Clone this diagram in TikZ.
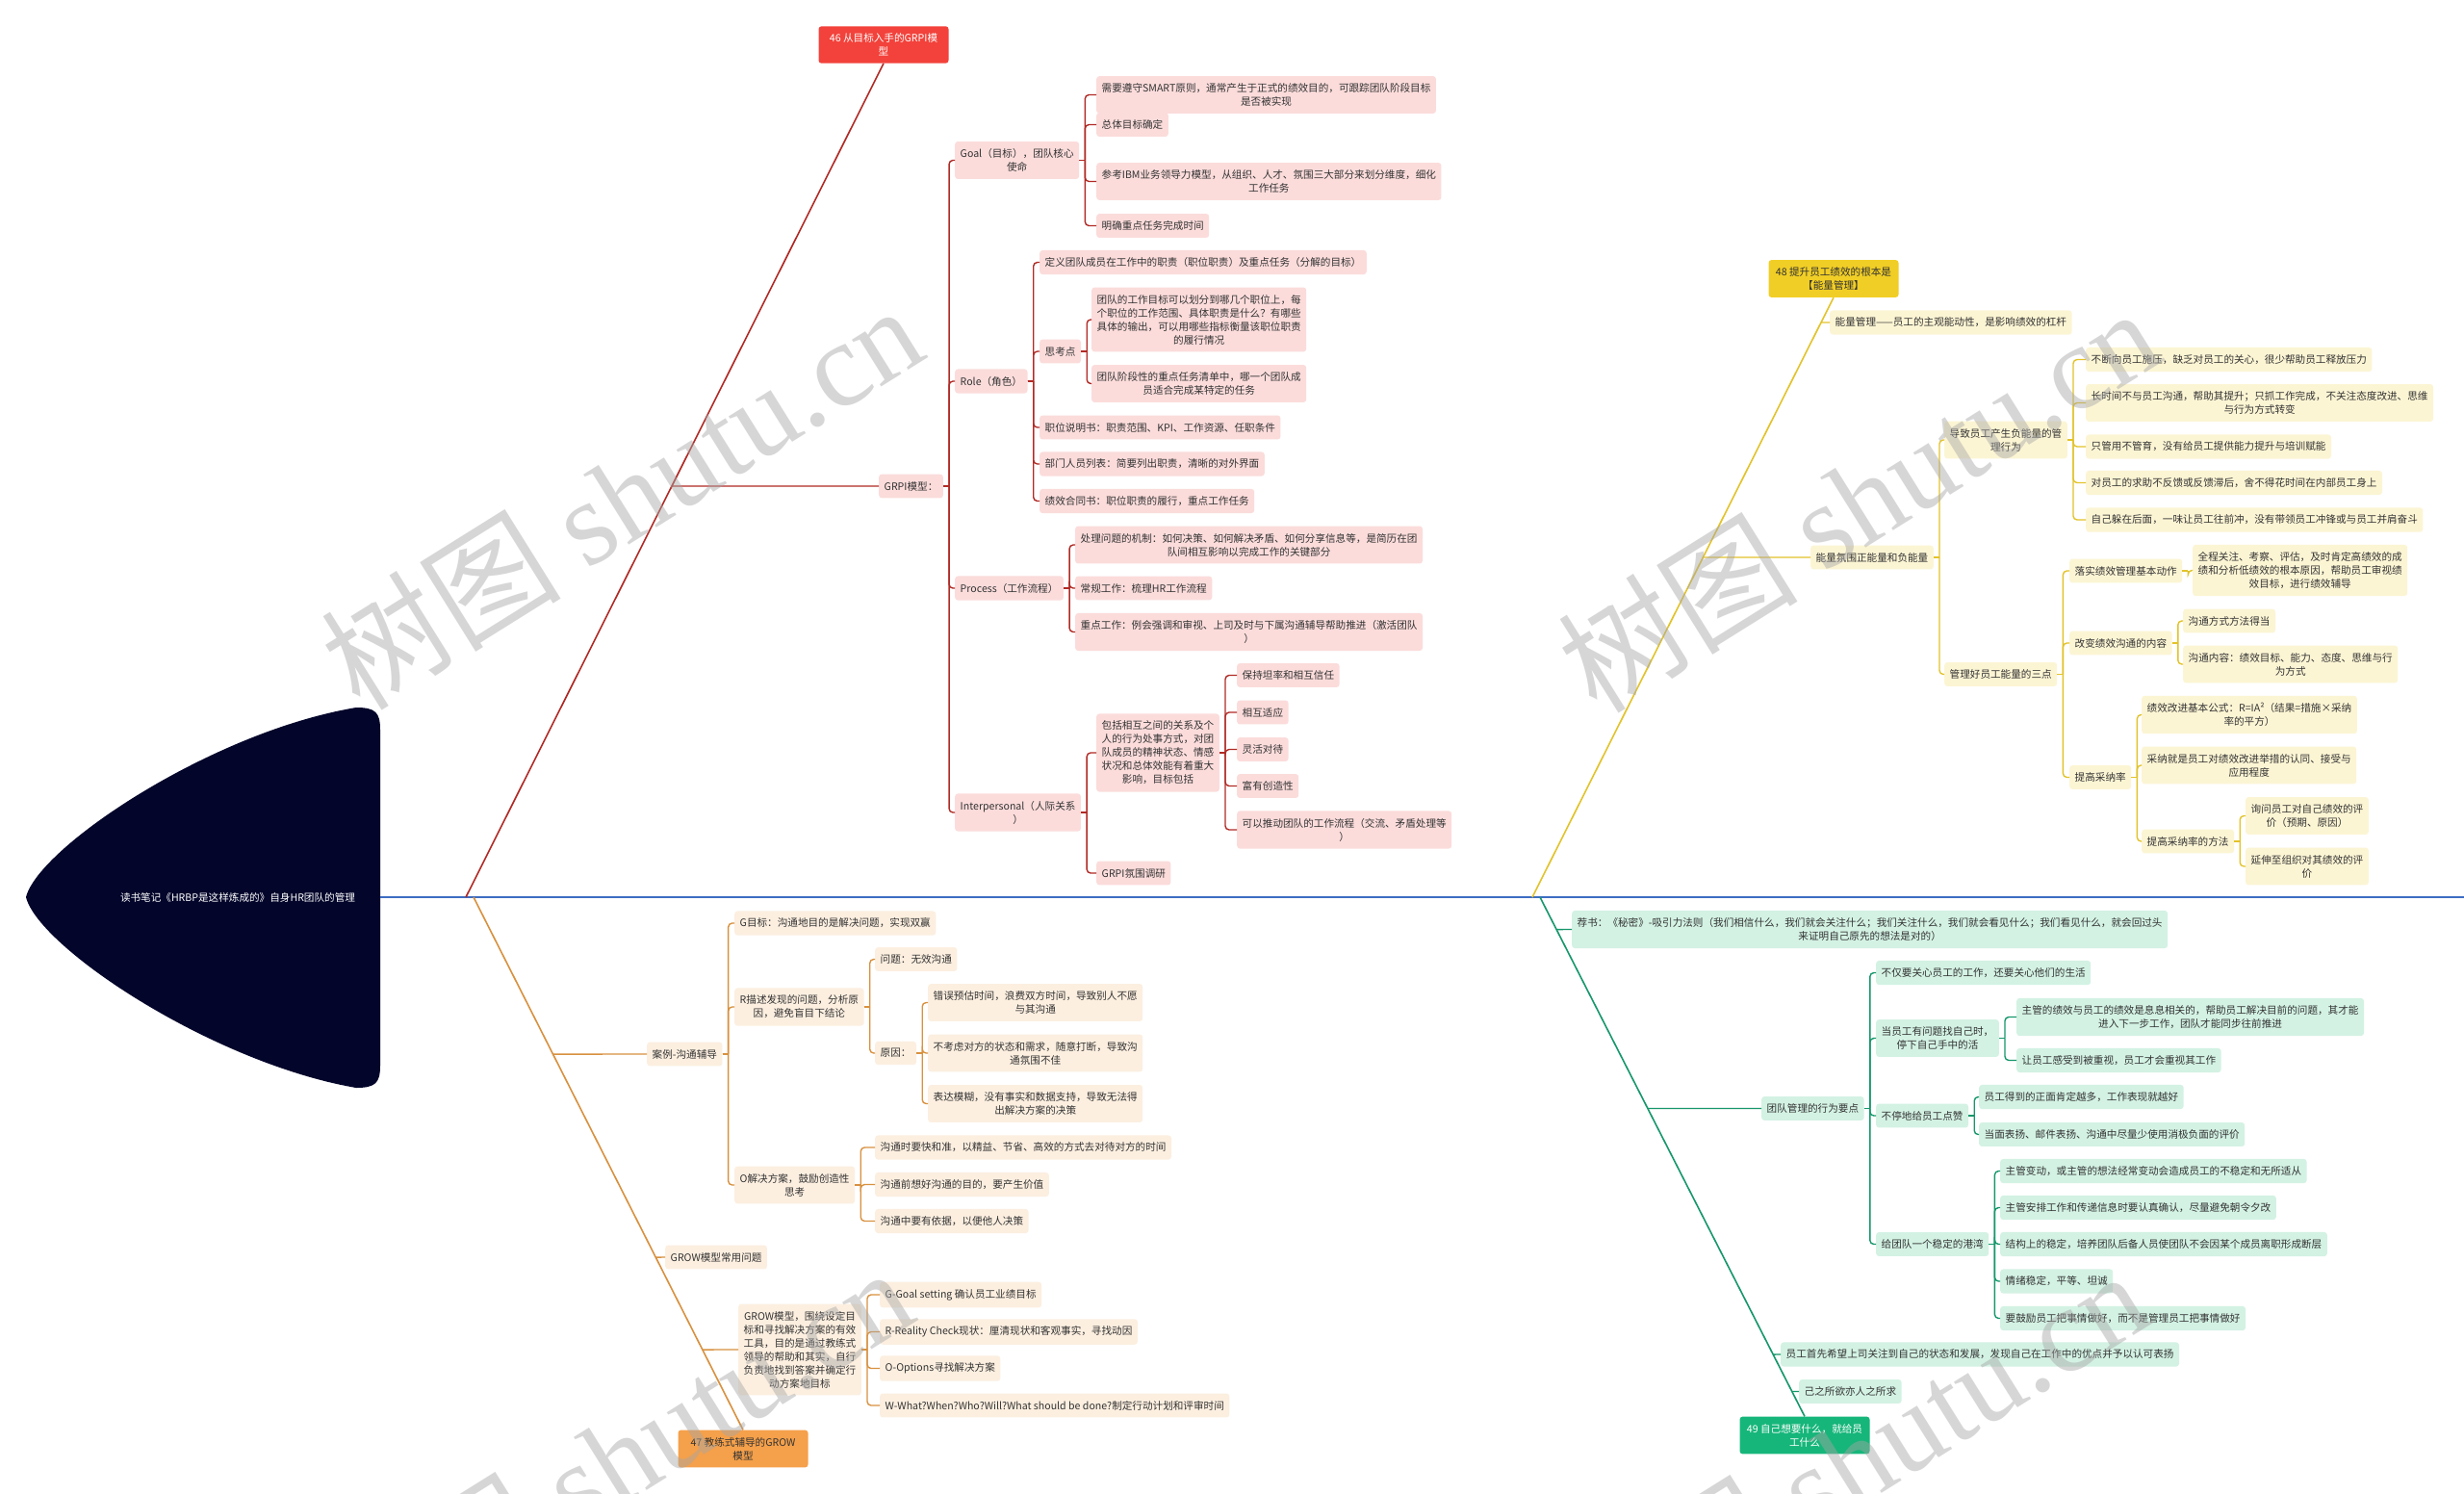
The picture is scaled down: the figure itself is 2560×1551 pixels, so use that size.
\documentclass[tikz,border=0pt]{standalone}
\usepackage{fontspec}
\setmainfont{Noto Sans CJK SC}
\newfontfamily\wmserif{Liberation Serif}

\definecolor{rootnavy}{HTML}{03052B}
\definecolor{axisblue}{HTML}{3D6DC3}
\definecolor{redline}{HTML}{B02A25}
\definecolor{redfill}{HTML}{FBDCDB}
\definecolor{redtop}{HTML}{F2423B}
\definecolor{orline}{HTML}{D8913F}
\definecolor{orfill}{HTML}{FCEFE0}
\definecolor{ortop}{HTML}{F5A04A}
\definecolor{yeline}{HTML}{E2C32A}
\definecolor{yefill}{HTML}{FCF5D4}
\definecolor{yetop}{HTML}{F1CE25}
\definecolor{grline}{HTML}{16976B}
\definecolor{grfill}{HTML}{D3F2E4}
\definecolor{grtop}{HTML}{16B67A}
\definecolor{ink}{HTML}{333333}

\newcommand{\mmsize}{\fontsize{10.6}{14}\selectfont}
% parent -> child: short stub, then bracket with a rounded end
\newcommand{\kid}[3]{\draw[#1] (#2.east) -- ++(6,0);
  \draw[#1,rounded corners=4] ([xshift=6pt]#2.east) |- (#3.west);}

\tikzset{
  mm/.style={rounded corners=3, inner xsep=5.5, inner ysep=7.5, align=center,
    font=\mmsize, text=ink, anchor=west},
  rbox/.style={mm, fill=redfill},
  obox/.style={mm, fill=orfill},
  ybox/.style={mm, fill=yefill},
  gbox/.style={mm, fill=grfill},
  topic/.style={mm, anchor=center, minimum width=135},
  rline/.style={draw=redline, line width=1.4},
  oline/.style={draw=orline, line width=1.4},
  yline/.style={draw=yeline, line width=1.4},
  gline/.style={draw=grline, line width=1.4},
  wm/.style={text=black!35, opacity=0.45, rotate=32,
    font=\fontsize{125}{125}\selectfont}
}

\begin{document}
\begin{tikzpicture}[x=1pt,y=-1pt]
\useasboundingbox (0,0) rectangle (2560,1551);
\fill[white] (0,0) rectangle (2560,1551);

% root
\fill[rootnavy] (27,932) .. controls (40,880) and (220,760) .. (370,735)
  .. controls (390,735) and (395,740) .. (395,758) -- (395,1107)
  .. controls (395,1125) and (390,1130) .. (370,1130)
  .. controls (220,1104) and (40,984) .. (27,932) -- cycle;
\node[font=\mmsize, text=white] (root) at (247,932) {读书笔记《HRBP是这样炼成的》自身HR团队的管理};
\coordinate (rootE) at (395,932);
\coordinate (axisEnd) at (2560,932);
\draw[axisblue, line width=1.5] (rootE) -- (axisEnd);
\coordinate (j46) at (484,932);
\coordinate (j47) at (492,932);
\coordinate (j48) at (1592,932);
\coordinate (j49) at (1600,932);

% 46 GRPI
\node[topic, fill=redtop, text=white] (t46) at (918,46.5) {46 从目标入手的GRPI模\\型};
\node[rbox] (grpi) at (913,505) {GRPI模型：};
\node[rbox] (goal) at (992,166.5) {Goal（目标），团队核心\\使命};
\node[rbox] (g1) at (1139,98.5) {需要遵守SMART原则，通常产生于正式的绩效目的，可跟踪团队阶段目标\\是否被实现};
\node[rbox] (g2) at (1139,129.5) {总体目标确定};
\node[rbox] (g3) at (1139,188.5) {参考IBM业务领导力模型，从组织、人才、氛围三大部分来划分维度，细化\\工作任务};
\node[rbox] (g4) at (1139,234.5) {明确重点任务完成时间};
\node[rbox] (role) at (992,396) {Role（角色）};
\node[rbox] (r1) at (1080,272.5) {定义团队成员在工作中的职责（职位职责）及重点任务（分解的目标）};
\node[rbox] (r2) at (1080,365) {思考点};
\node[rbox] (r2a) at (1134,332) {团队的工作目标可以划分到哪几个职位上，每\\个职位的工作范围、具体职责是什么？有哪些\\具体的输出，可以用哪些指标衡量该职位职责\\的履行情况};
\node[rbox] (r2b) at (1134,398.5) {团队阶段性的重点任务清单中，哪一个团队成\\员适合完成某特定的任务};
\node[rbox] (r3) at (1080,444) {职位说明书：职责范围、KPI、工作资源、任职条件};
\node[rbox] (r4) at (1080,482) {部门人员列表：简要列出职责，清晰的对外界面};
\node[rbox] (r5) at (1080,520.5) {绩效合同书：职位职责的履行，重点工作任务};
\node[rbox] (proc) at (992,611) {Process（工作流程）};
\node[rbox] (p1) at (1117,566) {处理问题的机制：如何决策、如何解决矛盾、如何分享信息等，是简历在团\\队间相互影响以完成工作的关键部分};
\node[rbox] (p2) at (1117,611) {常规工作：梳理HR工作流程};
\node[rbox] (p3) at (1117,656.5) {重点工作：例会强调和审视、上司及时与下属沟通辅导帮助推进（激活团队\\）};
\node[rbox] (inter) at (992,844) {Interpersonal（人际关系\\）};
\node[rbox] (i1) at (1139,782) {包括相互之间的关系及个\\人的行为处事方式，对团\\队成员的精神状态、情感\\状况和总体效能有着重大\\影响，目标包括};
\node[rbox] (i1a) at (1285,701.5) {保持坦率和相互信任};
\node[rbox] (i1b) at (1285,740) {相互适应};
\node[rbox] (i1c) at (1285,778.5) {灵活对待};
\node[rbox] (i1d) at (1285,816.5) {富有创造性};
\node[rbox] (i1e) at (1285,862) {可以推动团队的工作流程（交流、矛盾处理等\\）};
\node[rbox] (i2) at (1139,907) {GRPI氛围调研};

\draw[rline, line width=1.6] (j46) -- (t46.south);
\draw[rline] (intersection of j46--t46.south and grpi.west--grpi.east) -- (grpi.west);
\foreach \c in {goal,role,proc,inter} {\kid{rline}{grpi}{\c}}
\foreach \c in {g1,g2,g3,g4} {\kid{rline}{goal}{\c}}
\foreach \c in {r1,r2,r3,r4,r5} {\kid{rline}{role}{\c}}
\foreach \c in {r2a,r2b} {\kid{rline}{r2}{\c}}
\foreach \c in {p1,p2,p3} {\kid{rline}{proc}{\c}}
\foreach \c in {i1,i2} {\kid{rline}{inter}{\c}}
\foreach \c in {i1a,i1b,i1c,i1d,i1e} {\kid{rline}{i1}{\c}}

% 47 GROW
\node[topic, fill=ortop] (t47) at (772,1505) {47 教练式辅导的GROW\\模型};
\node[obox] (case) at (672,1095) {案例-沟通辅导};
\node[obox] (c1) at (763,959) {G目标：沟通地目的是解决问题，实现双赢};
\node[obox] (c2) at (763,1046) {R描述发现的问题，分析原\\因，避免盲目下结论};
\node[obox] (c2a) at (909,996.5) {问题：无效沟通};
\node[obox] (c2b) at (909,1094) {原因：};
\node[obox] (c2b1) at (964,1041.5) {错误预估时间，浪费双方时间，导致别人不愿\\与其沟通};
\node[obox] (c2b2) at (964,1094) {不考虑对方的状态和需求，随意打断，导致沟\\通氛围不佳};
\node[obox] (c2b3) at (964,1146.5) {表达模糊，没有事实和数据支持，导致无法得\\出解决方案的决策};
\node[obox] (c3) at (763,1231) {O解决方案，鼓励创造性\\思考};
\node[obox] (c3a) at (909,1192) {沟通时要快和准，以精益、节省、高效的方式去对待对方的时间};
\node[obox] (c3b) at (909,1230.5) {沟通前想好沟通的目的，要产生价值};
\node[obox] (c3c) at (909,1268.5) {沟通中要有依据，以便他人决策};
\node[obox] (growq) at (691,1306) {GROW模型常用问题};
\node[obox] (grow) at (767,1402) {GROW模型，围绕设定目\\标和寻找解决方案的有效\\工具，目的是通过教练式\\领导的帮助和其实，自行\\负责地找到答案并确定行\\动方案地目标};
\node[obox] (w1) at (914,1345) {G-Goal setting 确认员工业绩目标};
\node[obox] (w2) at (914,1383.5) {R-Reality Check现状：厘清现状和客观事实，寻找动因};
\node[obox] (w3) at (914,1421.5) {O-Options寻找解决方案};
\node[obox] (w4) at (914,1460) {W-What?When?Who?Will?What should be done?制定行动计划和评审时间};

\draw[oline, line width=1.6] (j47) -- (t47.north);
\foreach \c in {case,growq,grow}
  {\draw[oline] (intersection of j47--t47.north and \c.west--\c.east) -- (\c.west);}
\foreach \c in {c1,c2,c3} {\kid{oline}{case}{\c}}
\foreach \c in {c2a,c2b} {\kid{oline}{c2}{\c}}
\foreach \c in {c2b1,c2b2,c2b3} {\kid{oline}{c2b}{\c}}
\foreach \c in {c3a,c3b,c3c} {\kid{oline}{c3}{\c}}
\foreach \c in {w1,w2,w3,w4} {\kid{oline}{grow}{\c}}

% 48 energy
\node[topic, fill=yetop] (t48) at (1905,289.5) {48 提升员工绩效的根本是\\【能量管理】};
\node[ybox] (y1) at (1901,335) {能量管理——员工的主观能动性，是影响绩效的杠杆};
\node[ybox] (y2) at (1881,579) {能量氛围正能量和负能量};
\node[ybox] (y2a) at (2020,457) {导致员工产生负能量的管\\理行为};
\node[ybox] (y2a1) at (2167,373.5) {不断向员工施压，缺乏对员工的关心，很少帮助员工释放压力};
\node[ybox] (y2a2) at (2167,418.5) {长时间不与员工沟通，帮助其提升；只抓工作完成，不关注态度改进、思维\\与行为方式转变};
\node[ybox] (y2a3) at (2167,464) {只管用不管育，没有给员工提供能力提升与培训赋能};
\node[ybox] (y2a4) at (2167,501.5) {对员工的求助不反馈或反馈滞后，舍不得花时间在内部员工身上};
\node[ybox] (y2a5) at (2167,540) {自己躲在后面，一味让员工往前冲，没有带领员工冲锋或与员工并肩奋斗};
\node[ybox] (y2b) at (2020,700.5) {管理好员工能量的三点};
\node[ybox] (y2b1) at (2150,593) {落实绩效管理基本动作};
\node[ybox] (y2b1a) at (2278,592.5) {全程关注、考察、评估，及时肯定高绩效的成\\绩和分析低绩效的根本原因，帮助员工审视绩\\效目标，进行绩效辅导};
\node[ybox] (y2b2) at (2150,668) {改变绩效沟通的内容};
\node[ybox] (y2b2a) at (2268,645) {沟通方式方法得当};
\node[ybox] (y2b2b) at (2268,690) {沟通内容：绩效目标、能力、态度、思维与行\\为方式};
\node[ybox] (y2b3) at (2150,807.5) {提高采纳率};
\node[ybox] (y2b3a) at (2225,742.5) {绩效改进基本公式：R=IA²（结果=措施×采纳\\率的平方）};
\node[ybox] (y2b3b) at (2225,795) {采纳就是员工对绩效改进举措的认同、接受与\\应用程度};
\node[ybox] (y2b3c) at (2225,874) {提高采纳率的方法};
\node[ybox] (y2b3c1) at (2333,847.5) {询问员工对自己绩效的评\\价（预期、原因）};
\node[ybox] (y2b3c2) at (2333,900) {延伸至组织对其绩效的评\\价};

\draw[yline, line width=1.6] (j48) -- (t48.south);
\foreach \c in {y1,y2}
  {\draw[yline] (intersection of j48--t48.south and \c.west--\c.east) -- (\c.west);}
\foreach \c in {y2a,y2b} {\kid{yline}{y2}{\c}}
\foreach \c in {y2a1,y2a2,y2a3,y2a4,y2a5} {\kid{yline}{y2a}{\c}}
\foreach \c in {y2b1,y2b2,y2b3} {\kid{yline}{y2b}{\c}}
\kid{yline}{y2b1}{y2b1a}
\foreach \c in {y2b2a,y2b2b} {\kid{yline}{y2b2}{\c}}
\foreach \c in {y2b3a,y2b3b,y2b3c} {\kid{yline}{y2b3}{\c}}
\foreach \c in {y2b3c1,y2b3c2} {\kid{yline}{y2b3c}{\c}}

% 49 give what you want
\node[topic, fill=grtop, text=white] (t49) at (1875,1491) {49 自己想要什么，就给员\\工什么};
\node[gbox] (e1) at (1633,965.5) {荐书：《秘密》-吸引力法则（我们相信什么，我们就会关注什么；我们关注什么，我们就会看见什么；我们看见什么，就会回过头\\来证明自己原先的想法是对的）};
\node[gbox] (e2) at (1830,1151.5) {团队管理的行为要点};
\node[gbox] (e2a) at (1949,1010.5) {不仅要关心员工的工作，还要关心他们的生活};
\node[gbox] (e2b) at (1949,1078.5) {当员工有问题找自己时，\\停下自己手中的活};
\node[gbox] (e2b1) at (2095,1056.5) {主管的绩效与员工的绩效是息息相关的，帮助员工解决目前的问题，其才能\\进入下一步工作，团队才能同步往前推进};
\node[gbox] (e2b2) at (2095,1101.5) {让员工感受到被重视，员工才会重视其工作};
\node[gbox] (e2c) at (1949,1159) {不停地给员工点赞};
\node[gbox] (e2c1) at (2056,1139.5) {员工得到的正面肯定越多，工作表现就越好};
\node[gbox] (e2c2) at (2056,1178.5) {当面表扬、邮件表扬、沟通中尽量少使用消极负面的评价};
\node[gbox] (e2d) at (1949,1292.5) {给团队一个稳定的港湾};
\node[gbox] (e2d1) at (2078,1216.5) {主管变动，或主管的想法经常变动会造成员工的不稳定和无所适从};
\node[gbox] (e2d2) at (2078,1254.5) {主管安排工作和传递信息时要认真确认，尽量避免朝令夕改};
\node[gbox] (e2d3) at (2078,1292.5) {结构上的稳定，培养团队后备人员使团队不会因某个成员离职形成断层};
\node[gbox] (e2d4) at (2078,1331) {情绪稳定，平等、坦诚};
\node[gbox] (e2d5) at (2078,1369.5) {要鼓励员工把事情做好，而不是管理员工把事情做好};
\node[gbox] (e3) at (1850,1407) {员工首先希望上司关注到自己的状态和发展，发现自己在工作中的优点并予以认可表扬};
\node[gbox] (e4) at (1869,1445.5) {己之所欲亦人之所求};

\draw[gline, line width=1.6] (j49) -- (t49.north);
\foreach \c in {e1,e2,e3,e4}
  {\draw[gline] (intersection of j49--t49.north and \c.west--\c.east) -- (\c.west);}
\foreach \c in {e2a,e2b,e2c,e2d} {\kid{gline}{e2}{\c}}
\foreach \c in {e2b1,e2b2} {\kid{gline}{e2b}{\c}}
\foreach \c in {e2c1,e2c2} {\kid{gline}{e2c}{\c}}
\foreach \c in {e2d1,e2d2,e2d3,e2d4,e2d5} {\kid{gline}{e2d}{\c}}

% watermark
\node[wm] (wm1) at (645,515) {树图 {\wmserif shutu.cn}};
\node[wm] (wm2) at (1930,518) {树图 {\wmserif shutu.cn}};
\node[wm] (wm3) at (635,1515) {树图 {\wmserif shutu.cn}};
\node[wm] (wm4) at (1918,1518) {树图 {\wmserif shutu.cn}};
\end{tikzpicture}
\end{document}
